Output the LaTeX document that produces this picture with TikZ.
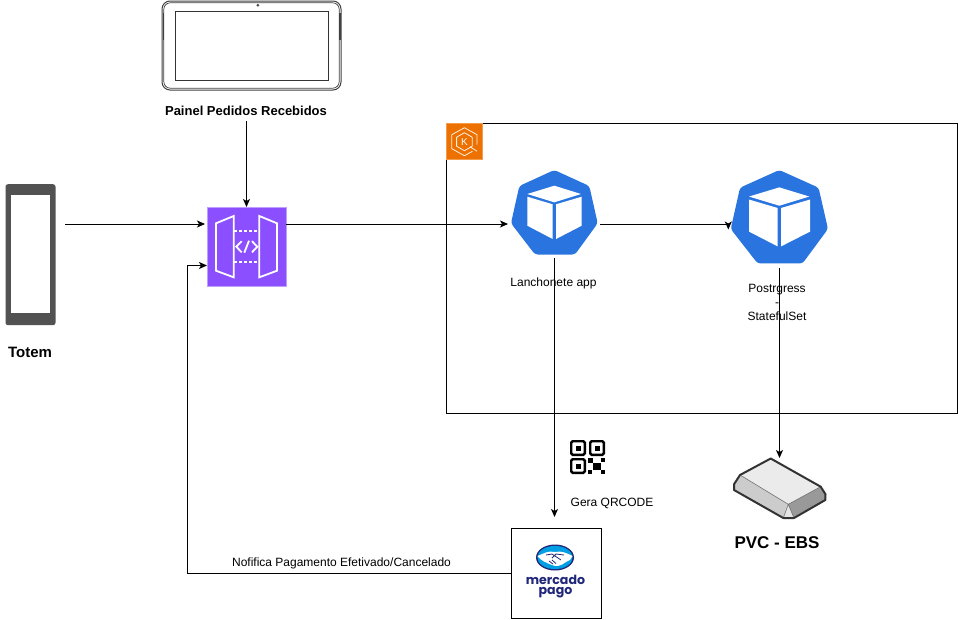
\documentclass[tikz,border=0pt]{standalone}
\usepackage{fontspec}
\setmainfont{Liberation Sans}
\newfontfamily\logofont{Poppins}
\usetikzlibrary{arrows.meta}
\definecolor{apipurple}{HTML}{8C4FFF}
\definecolor{ekso}{HTML}{ED7100}
\definecolor{kubeblue}{HTML}{2A74E0}
\definecolor{mpnavy}{HTML}{20277A}
\definecolor{mpcyan}{HTML}{009EE3}
\tikzset{
  every node/.style={outer sep=0pt},
  conn/.style={draw=black,line width=1pt,-{Stealth[length=8pt,width=7pt,inset=2pt]}},
  lbl/.style={font=\fontsize{12}{14}\selectfont,inner sep=0pt,anchor=base},
  bigbold/.style={font=\fontsize{#1}{#1}\selectfont\bfseries,inner sep=0pt},
  doorline/.style={draw=white,line width=1.8pt,line join=miter},
  finder/.style={draw=black,line width=2.4pt,fill=white,rounded corners=1.5pt},
  mplogo/.style={font=\fontsize{12.6}{10.5}\logofont\bfseries,text=mpnavy,inner sep=0pt,align=center},
}
\newcommand{\kubeicon}{%
  \fill[kubeblue,rounded corners=3pt] (0,0) -- (35,16) -- (43.4,53.3) -- (20.7,84.5) -- (-19.3,84.5) -- (-43.3,53.3) -- (-35,16) -- cycle;
  \fill[white] (0,15.7) -- (26.7,24) -- (0,32.3) -- (-27,24) -- cycle;
  \fill[white] (-27,26.7) -- (-1.6,34.3) -- (-1.6,69) -- (-27,55.7) -- cycle;
  \fill[white] (1.7,34.3) -- (27.4,26.7) -- (27.4,55.7) -- (1.7,69) -- cycle;
}
\begin{document}
\begin{tikzpicture}[x=1pt,y=-1pt]
\useasboundingbox (0,0) rectangle (958,619);
\fill[white] (0,0) rectangle (958,619);

% cluster
\node[draw=black,line width=1pt,fill=none,minimum width=511pt,minimum height=290pt,inner sep=0pt,anchor=north west] (cluster) at (446.5,123.5) {};
\node[fill=ekso,draw=ekso!70!white,line width=0.5pt,minimum width=36pt,minimum height=36pt,inner sep=0pt,anchor=north west] (eks) at (446.5,123.5) {};
\begin{scope}[shift={(464.4,141.7)},line width=0.8pt,line join=round]
  \draw[white!90!ekso] (0,-9) -- (7.8,-4.5) -- (7.8,4.5) -- (0,9) -- (-7.8,4.5) -- (-7.8,-4.5) -- cycle;
  \draw[white!90!ekso] (-3,-12.3) -- (-12.6,-7) -- (-12.6,7) -- (0,14) -- (8,9.6);
  \draw[white!90!ekso] (-3,-12.3) -- (0,-14) -- (12.6,-7) -- (12.6,3);
  \draw[white!90!ekso] (5.5,5) -- (12.6,9.5);
  \node[font=\fontsize{10}{10}\selectfont,text=white,inner sep=0pt] (eksk) at (0,0) {K};
\end{scope}

% tablet
\node[draw=black!75,line width=1pt,rounded corners=8pt,minimum width=179pt,minimum height=89pt,inner sep=0pt,anchor=north west] (tablet) at (162,1) {};
\draw[draw=black!75,line width=0.7pt,rounded corners=6.5pt] (163.8,2.8) rectangle (339.2,88.2);
\fill[black!75] (163,13) rectangle (164.4,40);
\fill[black!75] (339,13) rectangle (340.6,40);
\fill[black!70] (257.8,5.2) circle (1.5pt);
\draw[black!80,line width=1pt] (175.5,11) rectangle (328.5,80.7);
\node[bigbold=13] (paneltxt) at (246,110.5) {Painel Pedidos Recebidos};

% totem
\node[fill=black!68,rounded corners=2.5pt,minimum width=50pt,minimum height=141pt,inner sep=0pt,anchor=north west] (totem) at (5.5,184.2) {};
\fill[white] (11,195) rectangle (50,313);
\node[bigbold=15] (totemtxt) at (30,352.5) {Totem};

% api gateway
\node[fill=apipurple,draw=apipurple!55!white,line width=0.6pt,minimum width=78.5pt,minimum height=78.5pt,inner sep=0pt,anchor=north west] (api) at (207.3,207.3) {};
\draw[doorline] (216,223.3) -- (233.7,216) -- (233.7,277.3) -- (216,270.7) -- cycle;
\draw[doorline] (259.3,216) -- (277,223.3) -- (277,270.7) -- (259.3,277.3) -- cycle;
\draw[doorline,dash pattern=on 3pt off 2pt] (234,231) -- (259,231);
\draw[doorline,dash pattern=on 3pt off 2pt] (234,262.3) -- (259,262.3);
\draw[doorline] (241.7,241.2) -- (236.3,246.7) -- (241.7,252.3);
\draw[doorline] (252,241.2) -- (257.3,246.7) -- (252,252.3);
\draw[doorline] (249,240.7) -- (244.3,252.7);

% kube icons
\node[inner sep=0pt,minimum width=87pt,minimum height=85pt] (app) at (554.3,212.5) {};
\begin{scope}[shift={(554.3,170)}] \kubeicon \end{scope}
\node[lbl] (apptxt) at (553.5,286.5) {Lanchonete app};

\node[inner sep=0pt,minimum width=97pt,minimum height=94pt] (pg) at (779.5,217) {};
\begin{scope}[shift={(779.3,170)},xscale=1.122,yscale=1.106] \kubeicon \end{scope}
\node[lbl] (pgtxt1) at (777,292) {Postrgress};
\node[lbl] (pgtxt2) at (777,306) {-};
\node[lbl] (pgtxt3) at (777,320.5) {StatefulSet};

% PVC
\node[inner sep=0pt,minimum width=93pt,minimum height=61pt] (pvc) at (780,488.5) {};
\begin{scope}[line join=round]
  \fill[black!8] (770.7,458.5) -- (820.7,486.7) -- (788.3,504.3) -- (740,475) -- cycle;
  \fill[black!20] (740,475) -- (788.3,504.3) -- (783.3,518) -- (734,490) -- (734,484.3) -- cycle;
  \fill[black!10] (788.3,504.3) -- (794,518) -- (783.3,518) -- cycle;
  \fill[black!40] (788.3,504.3) -- (820.7,486.7) -- (825.5,494.3) -- (825.3,500) -- (794,518) -- cycle;
  \draw[black!55,line width=0.6pt] (740,475) -- (788.3,504.3) -- (820.7,486.7) (788.3,504.3) -- (783.3,518) (788.3,504.3) -- (794,518);
  \draw[black!80,line width=2pt] (770.7,458.5) -- (820.7,486.7) -- (825.5,494.3) -- (825.3,500) -- (794,518) -- (783.3,518) -- (734,490) -- (734,484.3) -- (740,475) -- cycle;
\end{scope}
\node[bigbold=17] (pvctxt) at (777,542.5) {PVC - EBS};

% QR
\draw[finder] (571.2,441.2) rectangle (584.8,454.8);
\fill (575.5,445.5) rectangle (580.5,450.5);
\draw[finder] (590.2,441.2) rectangle (603.8,454.8);
\fill (594.5,445.5) rectangle (599.5,450.5);
\draw[finder] (571.2,459.2) rectangle (584.8,472.8);
\fill (575.5,463.5) rectangle (580.5,468.5);
\fill (588,458) rectangle (593,463);
\fill (601,458) rectangle (605,462);
\fill (593,463) rectangle (601,470);
\fill (588,470) rectangle (592,474);
\fill (601,470) rectangle (605,474);
\node[lbl] (qrtxt) at (612,506) {Gera QRCODE};

% mercado pago
\node[draw=black,line width=1pt,fill=white,minimum width=90pt,minimum height=90pt,inner sep=0pt,anchor=north west] (mp) at (511.5,528.5) {};
\fill[mpnavy] (555,557.5) ellipse (19pt and 13pt);
\fill[mpcyan] (555,557.5) ellipse (17.6pt and 11.6pt);
\fill[white] (537.4,556) .. controls (545,553) and (548,550.5) .. (555,552) .. controls (562,550.5) and (566,553) .. (572.6,556) .. controls (572,559) and (569,561) .. (566,562) .. controls (561,566) and (556,567) .. (552,565) .. controls (547,563) and (541,561) .. cycle;
\draw[mpnavy,line width=0.8pt] (546,555) -- (552,554) -- (561,560) (564,555) -- (556,554) -- (552,558) (549,561) -- (553,564) (552,560) -- (556,563.5);
\node[mplogo] (mptxt) at (555.5,586.5) {mercado\\pago};

\node[lbl] (nofi) at (341.5,566) {Nofifica Pagamento Efetivado/Cancelado};

% connector anchors
\coordinate (tot1) at (65,224);
\coordinate (api1) at (205,224);
\coordinate (pan1) at (246.5,121);
\coordinate (api2) at (246.5,207);
\coordinate (api3) at (286,224);
\coordinate (app1) at (508,224);
\coordinate (app2) at (600,224);
\coordinate (pg1) at (728.3,229.5);
\coordinate (app3) at (554.5,258);
\coordinate (mp1) at (554.5,517);
\coordinate (pg2) at (779.5,268);
\coordinate (pvc1) at (779.5,458);
\coordinate (mp2) at (511,573.5);
\coordinate (api4) at (207,265.5);

\draw[conn] (tot1) -- (api1);
\draw[conn] (pan1) -- (api2);
\draw[conn] (api3) -- (app1);
\draw[conn] (app2) -| (pg1);
\draw[conn] (app3) -- (mp1);
\draw[conn] (pg2) -- (pvc1);
\draw[conn] (mp2) -- (187.5,573.5) -- (187.5,265.5) -- (api4);
\end{tikzpicture}
\end{document}
